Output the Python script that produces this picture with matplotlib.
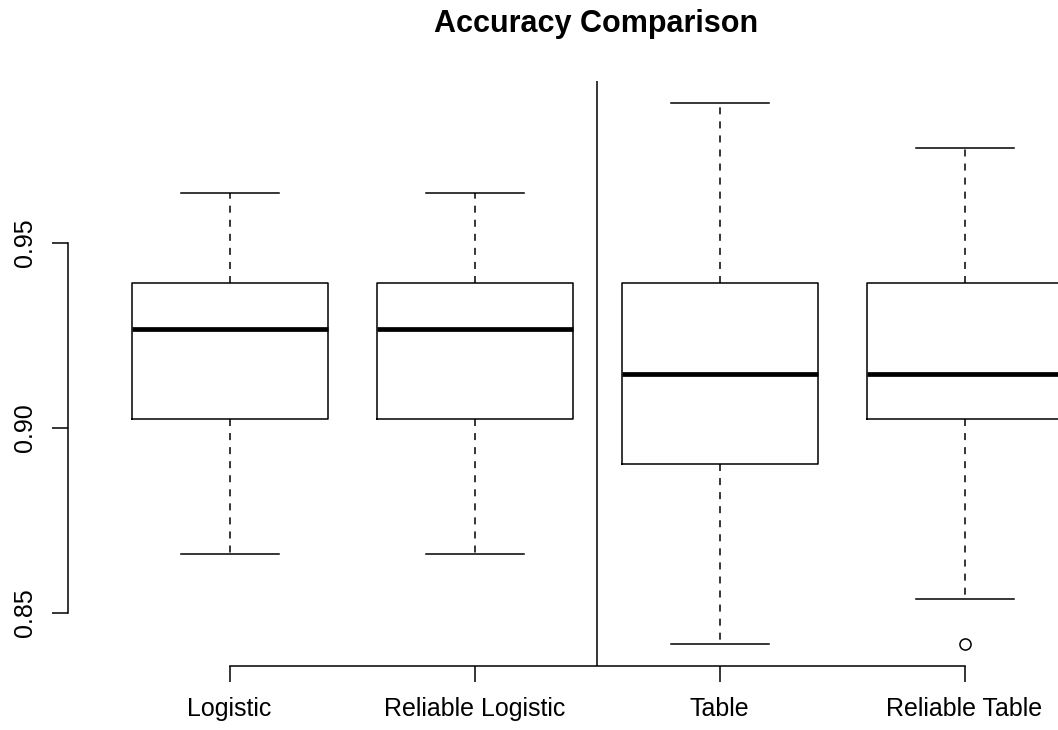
import matplotlib
matplotlib.use("Agg")
import matplotlib.pyplot as plt

plt.rcParams['font.family'] = ['Liberation Sans', 'DejaVu Sans']

# accuracy summaries per method (82 test cases)
methods = ['Logistic', 'Reliable Logistic', 'Table', 'Reliable Table']
whisker_low = [0.8659, 0.8659, 0.8415, 0.8537]
quartile_1 = [0.9024, 0.9024, 0.8902, 0.9024]
medians = [0.9268, 0.9268, 0.9146, 0.9146]
quartile_3 = [0.9390, 0.9390, 0.9390, 0.9390]
whisker_high = [0.9634, 0.9634, 0.9878, 0.9756]
outliers = [[], [], [], [0.8415]]

y_ticks = [0.85, 0.90, 0.95]

stats = []
for i, name in enumerate(methods):
    stats.append({
        'label': name,
        'whislo': whisker_low[i],
        'q1': quartile_1[i],
        'med': medians[i],
        'q3': quartile_3[i],
        'whishi': whisker_high[i],
        'fliers': outliers[i],
    })

W, H = 1058, 730
fig = plt.figure(figsize=(W / 100, H / 100), dpi=100)
ax = fig.add_axes([67.8 / W, 64 / H, 1058.4 / W, 585 / H])

lw = 1.1
ax.bxp(stats, positions=range(1, 5), widths=0.8,
       boxprops=dict(color='black', linewidth=lw),
       medianprops=dict(color='black', linewidth=3.4, solid_capstyle='butt'),
       whiskerprops=dict(color='black', linewidth=lw, linestyle=(0, (4.6, 4.6))),
       capprops=dict(color='black', linewidth=lw),
       capwidths=0.4,
       flierprops=dict(marker='o', markerfacecolor='none', markeredgecolor='black',
                       markersize=8, markeredgewidth=lw))

ax.axvline(2.5, color='black', linewidth=lw)

# R-style limits with 4% padding
lo = min(min(whisker_low), min(min(o) for o in outliers if o))
hi = max(whisker_high)
pad = (hi - lo) * 0.04
ax.set_ylim(lo - pad, hi + pad)
ax.set_xlim(0.34, 4.66)

for side in ['top', 'right']:
    ax.spines[side].set_visible(False)
ax.spines['left'].set_bounds(y_ticks[0], y_ticks[-1])
ax.spines['bottom'].set_bounds(1, 4)
ax.spines['left'].set_linewidth(lw)
ax.spines['bottom'].set_linewidth(lw)

ax.set_xticks(range(1, 5))
ax.set_xticklabels(methods)
ax.set_yticks(y_ticks)
ax.set_yticklabels(['%.2f' % v for v in y_ticks], rotation=90, va='center')
ax.tick_params(direction='out', length=11.5, width=lw, labelsize=18, pad=11)

fig.text(596.5 / W, 1 - 32 / H, 'Accuracy Comparison', ha='center', va='baseline',
         fontsize=22, fontweight='bold')

fig.savefig('out.png', dpi=100)
